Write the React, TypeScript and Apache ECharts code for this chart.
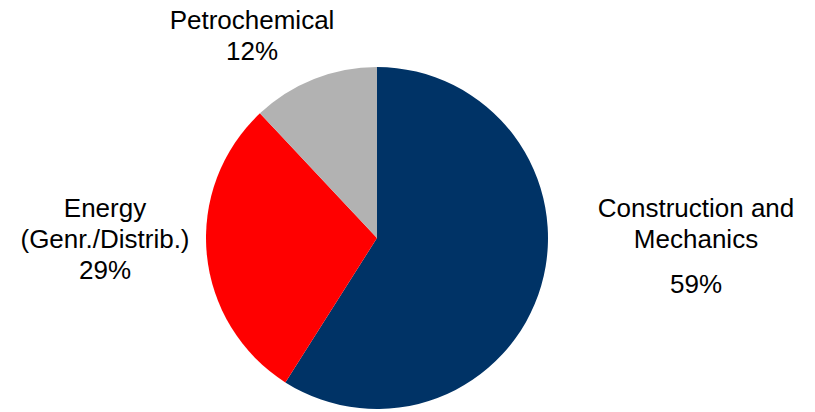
import React, { useEffect, useRef } from "react";
import * as echarts from "echarts";

const categories = ["Construction and\nMechanics", "Energy\n(Genr./Distrib.)", "Petrochemical"];
const shares = [59, 29, 12];
const colors = ["#003366", "#FF0000", "#B2B2B2"];
const labelSpots = [
  { x: 696, y: 253 },
  { x: 105, y: 239 },
  { x: 252, y: 35 },
];

export default function App() {
  const ref = useRef<HTMLDivElement>(null);
  useEffect(() => {
    if (!ref.current) return;
    const chart = echarts.init(ref.current, null, { renderer: "svg" });
    chart.setOption({
      animation: false,
      backgroundColor: "#ffffff",
      series: [
        {
          type: "pie",
          center: [377, 238],
          radius: 171,
          startAngle: 90,
          clockwise: true,
          avoidLabelOverlap: false,
          data: categories.map((name, i) => ({
            name,
            value: shares[i],
            itemStyle: { color: colors[i] },
          })),
          label: {
            show: true,
            position: "outside",
            fontFamily: "Liberation Sans, Arial, sans-serif",
            fontSize: 26,
            color: "#000",
            lineHeight: 31,
            formatter: (p: any) =>
              p.dataIndex === 0
                ? `{n|${p.name}}\n{p|${p.value}%}`
                : `{n|${p.name}}\n{n|${p.value}%}`,
            rich: {
              n: { fontSize: 26, lineHeight: 31, color: "#000", fontFamily: "Liberation Sans, Arial, sans-serif" },
              p: { fontSize: 26, lineHeight: 60, color: "#000", fontFamily: "Liberation Sans, Arial, sans-serif" },
            },
          },
          labelLine: { show: false },
          labelLayout: (params: any) => ({
            x: labelSpots[params.dataIndex].x,
            y: labelSpots[params.dataIndex].y,
            align: "center",
            verticalAlign: "middle",
          }),
        },
      ],
    });
    return () => chart.dispose();
  }, []);
  return (
    <div
      ref={ref}
      style={{ position: "fixed", left: 0, top: 0, width: 815, height: 412 }}
    />
  );
}
